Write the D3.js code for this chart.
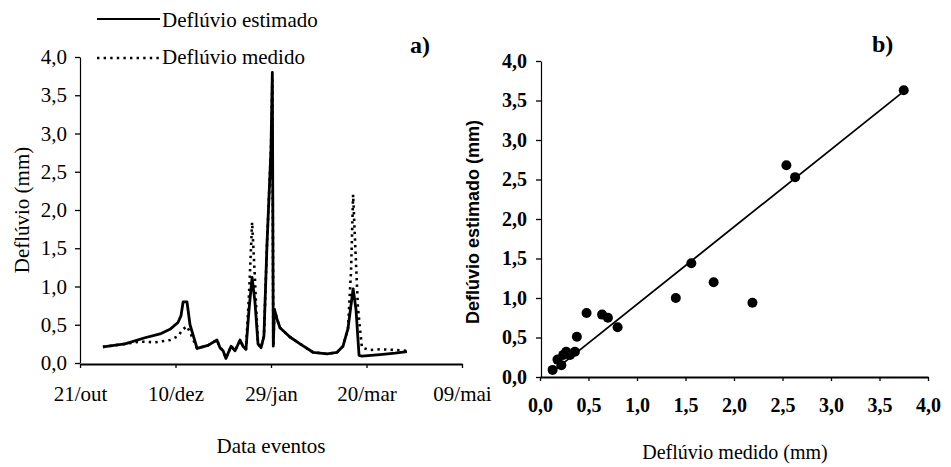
<!DOCTYPE html>
<html>
<head>
<meta charset="utf-8">
<script src="https://cdn.jsdelivr.net/npm/d3@7"></script>
<style>
  html, body { margin: 0; padding: 0; background: #fff; }
  svg { display: block; }
  svg text { fill: #000; }
  svg text.serif { font-family: "Liberation Serif", "DejaVu Serif", serif; }
  svg text.sans { font-family: "Liberation Sans", "DejaVu Sans", sans-serif; }
</style>
</head>
<body>
<svg id="chart" width="951" height="467"></svg>
<script>
// ---------- Data ----------
// Panel a: days since 21/out
const dateTickDays = [0, 50, 100, 150, 200];
const dateTickLabels = ["21/out", "10/dez", "29/jan", "20/mar", "09/mai"];
const yTicksA = [0, 0.5, 1, 1.5, 2, 2.5, 3, 3.5, 4];

const estDays = [12.0, 23.6, 34.0, 41.9, 47.1, 51.3, 52.9, 54.0, 56.0, 57.6, 61.3, 67.0, 71.7, 73.3, 74.9, 76.4, 79.1, 81.2, 83.8, 85.3, 86.9, 88.5, 90.1, 91.6, 93.2, 94.8, 96.3, 97.9, 100.0, 100.7, 101.2, 101.8, 103.1, 104.7, 109.9, 115.2, 122.0, 129.3, 134.6, 137.7, 140.3, 143.0, 144.5, 146.1, 147.6, 157.1, 164.9, 171.2];
const estValues = [0.21, 0.25, 0.33, 0.38, 0.44, 0.53, 0.62, 0.80, 0.80, 0.50, 0.19, 0.23, 0.30, 0.20, 0.16, 0.06, 0.22, 0.16, 0.30, 0.22, 0.18, 0.70, 1.12, 0.80, 0.25, 0.20, 0.35, 1.55, 2.80, 3.80, 0.22, 0.70, 0.58, 0.46, 0.34, 0.25, 0.14, 0.12, 0.14, 0.22, 0.45, 0.97, 0.70, 0.10, 0.09, 0.11, 0.13, 0.15];

const medDays = [12.0, 23.6, 31.4, 39.3, 47.1, 51.3, 53.9, 56.0, 57.6, 61.3, 67.0, 71.7, 73.3, 74.9, 76.4, 79.1, 81.2, 83.8, 85.3, 86.9, 88.5, 90.1, 91.6, 92.1, 93.2, 94.8, 96.3, 97.9, 100.0, 100.7, 101.2, 101.8, 103.1, 104.7, 109.9, 115.2, 122.0, 129.3, 134.6, 137.7, 140.3, 141.9, 143.0, 144.0, 145.5, 147.6, 151.8, 157.1, 164.9, 171.2];
const medValues = [0.21, 0.25, 0.28, 0.27, 0.30, 0.35, 0.44, 0.48, 0.40, 0.19, 0.23, 0.30, 0.20, 0.16, 0.06, 0.22, 0.16, 0.30, 0.22, 0.18, 0.90, 1.84, 1.10, 0.80, 0.25, 0.20, 0.35, 1.55, 2.80, 3.70, 0.22, 0.70, 0.58, 0.46, 0.34, 0.25, 0.14, 0.12, 0.14, 0.22, 0.45, 1.20, 2.20, 1.60, 0.73, 0.20, 0.17, 0.18, 0.17, 0.16];

// Panel b: scatter measured vs estimated
const scatterMedido   = [0.13, 0.18, 0.22, 0.24, 0.27, 0.31, 0.36, 0.38, 0.48, 0.64, 0.70, 0.80, 1.40, 1.56, 1.79, 2.19, 2.54, 2.63, 3.75];
const scatterEstimado = [0.09, 0.22, 0.15, 0.28, 0.32, 0.28, 0.32, 0.51, 0.81, 0.79, 0.75, 0.63, 1.00, 1.44, 1.20, 0.94, 2.68, 2.53, 3.63];
const fitSlope = 0.98;
const fitIntercept = -0.06;
const fitRange = [0.15, 3.75];
const ticksB = [0, 0.5, 1, 1.5, 2, 2.5, 3, 3.5, 4];

// ---------- Drawing ----------
const svg = d3.select("#chart");
const fmt = d => d3.format(".1f")(d).replace(".", ",");

function styleText(sel, cls, size, weight) {
  sel.attr("class", cls).attr("font-family", null)
     .style("font-size", size + "px").style("font-weight", weight || "normal").attr("fill", "#000");
  return sel;
}

// Panel a scales
const xA = d3.scaleLinear().domain([0, 200]).range([80, 462]);
const yA = d3.scaleLinear().domain([0, 4]).range([363, 57]);

const gA = svg.append("g");

const yAxisA = gA.append("g").attr("transform", `translate(${xA(0)},0)`)
  .call(d3.axisLeft(yA).tickValues(yTicksA).tickFormat(fmt).tickSize(5).tickSizeOuter(0).tickPadding(8));
const xAxisA = gA.append("g").attr("transform", `translate(0,${yA(0) + 1})`)
  .call(d3.axisBottom(xA).tickValues(dateTickDays).tickFormat((d, i) => dateTickLabels[i]).tickSize(4).tickSizeOuter(0).tickPadding(18));

[yAxisA, xAxisA].forEach(ax => {
  ax.attr("font-family", null).attr("font-size", null);
  styleText(ax.selectAll("text"), "serif", 21);
  ax.selectAll("line").attr("stroke", "#000").attr("stroke-width", 1.3);
});
yAxisA.select(".domain").attr("stroke", "#000").attr("stroke-width", 1.2);
xAxisA.select(".domain").attr("stroke", "#000").attr("stroke-width", 2);

const lineA = d3.line().x(d => xA(d[0])).y(d => yA(d[1]));
const medData = medDays.map((d, i) => [d, medValues[i]]);
const estData = estDays.map((d, i) => [d, estValues[i]]);

gA.append("path").datum(medData).attr("d", lineA)
  .attr("fill", "none").attr("stroke", "#000").attr("stroke-width", 2.6)
  .attr("stroke-dasharray", "2.4,4.2").attr("stroke-linejoin", "round");
gA.append("path").datum(estData).attr("d", lineA)
  .attr("fill", "none").attr("stroke", "#000").attr("stroke-width", 2.8)
  .attr("stroke-linejoin", "round");

// legend
gA.append("line").attr("x1", 97).attr("x2", 160).attr("y1", 19).attr("y2", 19)
  .attr("stroke", "#000").attr("stroke-width", 2.2);
styleText(gA.append("text").attr("x", 162).attr("y", 27).text("Deflúvio estimado"), "serif", 21);
gA.append("line").attr("x1", 97).attr("x2", 160).attr("y1", 58).attr("y2", 58)
  .attr("stroke", "#000").attr("stroke-width", 2.4).attr("stroke-dasharray", "2.4,4.2");
styleText(gA.append("text").attr("x", 162).attr("y", 64).text("Deflúvio medido"), "serif", 21);

// labels a
styleText(gA.append("text").attr("x", 410).attr("y", 53).text("a)"), "serif", 24, "bold");
styleText(gA.append("text").attr("transform", "translate(29,210) rotate(-90)").attr("text-anchor", "middle")
  .text("Deflúvio (mm)"), "serif", 21);
styleText(gA.append("text").attr("x", 271).attr("y", 453).attr("text-anchor", "middle")
  .text("Data eventos"), "serif", 21);

// Panel b scales
const xB = d3.scaleLinear().domain([0, 4]).range([540, 928]);
const yB = d3.scaleLinear().domain([0, 4]).range([377, 61]);
const gB = svg.append("g");

const yAxisB = gB.append("g").attr("transform", `translate(${xB(0) + 1},0)`)
  .call(d3.axisLeft(yB).tickValues(ticksB).tickFormat(fmt).tickSize(5).tickSizeOuter(0).tickPadding(9));
const xAxisB = gB.append("g").attr("transform", `translate(0,${yB(0)})`)
  .call(d3.axisBottom(xB).tickValues(ticksB).tickFormat(fmt).tickSize(4).tickSizeOuter(0).tickPadding(17));
[yAxisB, xAxisB].forEach(ax => {
  ax.attr("font-family", null).attr("font-size", null);
  styleText(ax.selectAll("text"), "serif", 20, "bold");
  ax.selectAll("line").attr("stroke", "#000").attr("stroke-width", 1.3);
});
yAxisB.select(".domain").attr("stroke", "#000").attr("stroke-width", 1.2);
xAxisB.select(".domain").attr("stroke", "#000").attr("stroke-width", 2);

gB.append("line")
  .attr("x1", xB(fitRange[0])).attr("y1", yB(fitSlope * fitRange[0] + fitIntercept))
  .attr("x2", xB(fitRange[1])).attr("y2", yB(fitSlope * fitRange[1] + fitIntercept))
  .attr("stroke", "#000").attr("stroke-width", 1.8);

gB.selectAll("circle.pt").data(scatterMedido.map((m, i) => [m, scatterEstimado[i]]))
  .enter().append("circle").attr("class", "pt")
  .attr("cx", d => xB(d[0])).attr("cy", d => yB(d[1])).attr("r", 5).attr("fill", "#000");

styleText(gB.append("text").attr("x", 872).attr("y", 52).text("b)"), "serif", 24, "bold");
styleText(gB.append("text").attr("transform", "translate(479,222) rotate(-90)").attr("text-anchor", "middle")
  .text("Deflúvio estimado (mm)"), "sans", 18, "bold");
styleText(gB.append("text").attr("x", 735).attr("y", 459).attr("text-anchor", "middle")
  .text("Deflúvio medido (mm)"), "serif", 20);
</script>
</body>
</html>
